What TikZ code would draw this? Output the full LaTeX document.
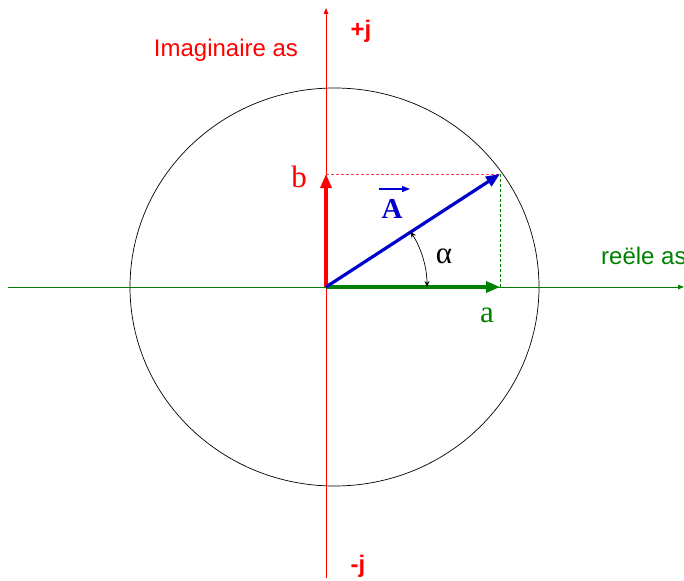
\documentclass[tikz,border=0pt]{standalone}
\usepackage{fontspec}
\setmainfont{Liberation Serif}
\setsansfont{Liberation Sans}
\usetikzlibrary{arrows.meta}
\definecolor{dgreen}{RGB}{0,128,0}
\definecolor{dblue}{RGB}{0,0,204}
\begin{document}
\begin{tikzpicture}[x=1pt,y=-1pt,
  axis/.style={line width=0.8pt,-{Triangle[length=6pt,width=4.5pt]}},
  vec/.style={line width=3.2pt,-{Triangle[length=14pt,width=11pt]}},
  guide/.style={line width=0.8pt,dash pattern=on 3pt off 2pt},
  lab/.style={font=\fontsize{31}{33}\selectfont,inner sep=0pt},
  slab/.style={font=\sffamily\fontsize{24}{27}\selectfont,inner sep=0pt},
  bslab/.style={font=\sffamily\bfseries\fontsize{24}{27}\selectfont,inner sep=0pt}]
\useasboundingbox (0,0) rectangle (684,580);
\coordinate (O) at (326,287);
\coordinate (Xend) at (684,287);
\coordinate (Xstart) at (8,287);
\coordinate (Ytop) at (326,8);
\coordinate (Ybot) at (326,578);
\coordinate (P) at (500,174);
\coordinate (Pa) at (500,287);
\coordinate (Pb) at (326,174);
\coordinate (Arc0) at (427,287);
\draw[black,line width=0.7pt] (334.5,287) ellipse [x radius=204.5,y radius=199];
\draw[axis,dgreen] (Xstart) -- (Xend);
\draw[axis,red] (Ybot) -- (Ytop);
\draw[guide,draw=red!75] (Pb) -- (P);
\draw[guide,draw=dgreen] (Pa) -- (P);
\draw[vec,red] (O) -- (Pb);
\draw[vec,dgreen] (O) -- (Pa);
\draw[vec,dblue] (O) -- (P);
\draw[line width=0.7pt,{Stealth[length=6pt,width=5pt]}-{Stealth[length=6pt,width=5pt]}] (Arc0) arc[start angle=0,end angle=-33.2,radius=101];
\node[lab,text=red] (b) at (299,177) {b};
\node[lab,text=dgreen] (a) at (487,315) {a};
\node[lab,text=dblue,font=\bfseries\fontsize{29}{31}\selectfont] (A) at (392,209) {A};
\draw[dblue,line width=1.2pt,-{Triangle[length=8pt,width=6pt]}] (379,189) -- (410,189);
\node[lab] (alpha) at (444,256) {α};
\node[slab,text=red] (im) at (226,50) {Imaginaire as};
\node[bslab,text=red] (pj) at (361,31) {+j};
\node[bslab,text=red] (mj) at (358,566) {-j};
\node[slab,text=dgreen,anchor=west] (re) at (601,256) {reële as};
\end{tikzpicture}
\end{document}
